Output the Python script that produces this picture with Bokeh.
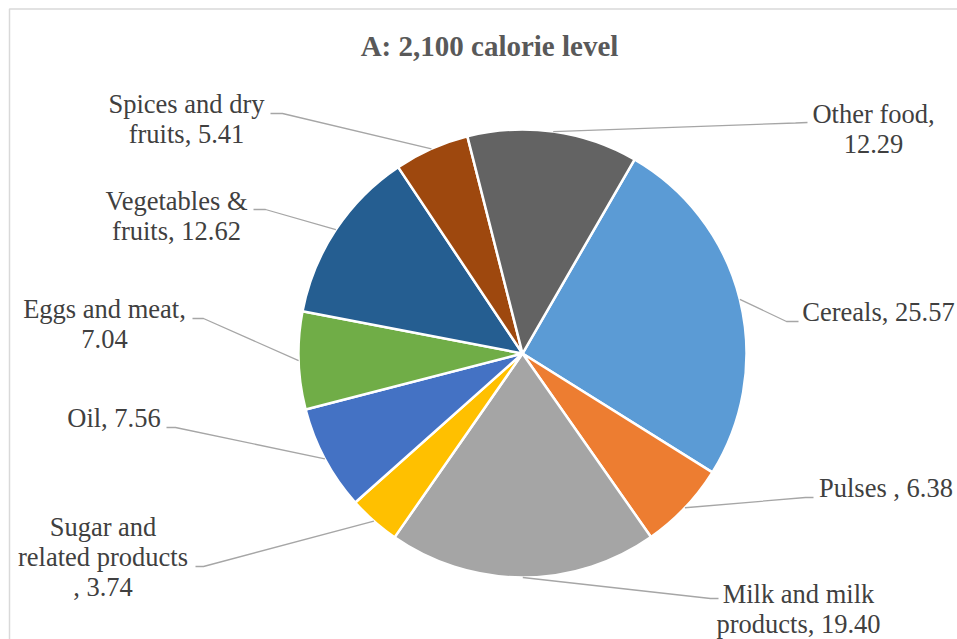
import math
from bokeh.plotting import figure
from bokeh.models import ColumnDataSource, Range1d
from bokeh.embed import file_html
from bokeh.resources import INLINE
from bokeh.core.properties import value

# ---------------- data ----------------
TITLE = "A: 2,100 calorie level"
CATEGORIES = ["Cereals", "Pulses ", "Milk and milk products",
              "Sugar and related products ", "Oil", "Eggs and meat",
              "Vegetables & fruits", "Spices and dry fruits", "Other food"]
SHARES = [25.57, 6.38, 19.40, 3.74, 7.56, 7.04, 12.62, 5.41, 12.29]
COLORS = ["#5B9BD5", "#ED7D31", "#A5A5A5", "#FFC000", "#4472C4",
          "#70AD47", "#255E91", "#9E480E", "#636363"]

# ---------------- layout (pixels, y measured from top) ----------------
W, H = 957, 639
CX, CY, R = 522, 353, 224
FIRST_ANGLE = 30.0          # degrees clockwise from 12 o'clock
WRAP = [[2], [3], [3, 2], [2, 2, 2], [2], [3, 1], [2, 2], [3, 2], [2, 1]]
LABEL_X = [878, 885.5, 798, 102.5, 113.5, 104, 176, 186, 873]
LABEL_Y = [321, 497, 603, 536, 427, 318, 209.5, 113.3, 122.7]
ELBOW = [(786, 321), (805, 497), (710, 598), (203, 566), (175, 427),
         (203, 318), (265, 209), (282, 113), (795, 122.5)]
LEAD_END = [(798, 321), (813, 497), (718, 598), (195, 566), (166, 427),
            (192, 318), (253, 209), (270, 113), (807, 122)]
LINE_STEP = 30
TEXT_SHIFT = -9.5
TITLE_POS = (489, 45)


def fy(y):
    return H - y


p = figure(width=W, height=H, output_backend="svg", toolbar_location=None,
           x_axis_location=None, y_axis_location=None, min_border=0,
           x_range=Range1d(0, W), y_range=Range1d(0, H))
p.outline_line_color = None
p.grid.grid_line_color = None
p.background_fill_color = "white"
p.border_fill_color = "white"

# chart border (top & left visible)
p.line([9, 9, W], [fy(H), fy(8.5), fy(8.5)], line_color="#d9d9d9", line_width=1.5)

# wedges
total = sum(SHARES)
starts, ends, mids = [], [], []
acc = FIRST_ANGLE
for s in SHARES:
    a0 = acc
    a1 = acc + s / total * 360.0
    starts.append(math.radians(90 - a0))
    ends.append(math.radians(90 - a1))
    mids.append((a0 + a1) / 2)
    acc = a1

src = ColumnDataSource(dict(start=starts, end=ends, color=COLORS, cat=CATEGORIES, share=SHARES))
p.wedge(x=CX, y=fy(CY), radius=R, start_angle="start", end_angle="end",
        direction="clock", fill_color="color", line_color="white", line_width=2.5,
        source=src)

# leader lines
xs, ys = [], []
for m, e, le in zip(mids, ELBOW, LEAD_END):
    sx = CX + R * math.sin(math.radians(m))
    sy = CY - R * math.cos(math.radians(m))
    xs.append([sx, e[0], le[0]])
    ys.append([fy(sy), fy(e[1]), fy(le[1])])
p.multi_line(xs, ys, line_color="#a6a6a6", line_width=1.3)

# labels
tx, ty, tt = [], [], []
for cat, val, wrap, lx, ly in zip(CATEGORIES, SHARES, WRAP, LABEL_X, LABEL_Y):
    words = f"{cat}, {val:.2f}".split()
    i = 0
    for k, n in enumerate(wrap):
        tt.append(" ".join(words[i:i + n]))
        i += n
        tx.append(lx)
        ty.append(fy(ly + k * LINE_STEP + TEXT_SHIFT))
p.text(tx, ty, text=tt, text_align="center", text_baseline="alphabetic",
       text_font=value("Liberation Serif"), text_font_size="26.5px", text_color="#404040")

# title
p.text([TITLE_POS[0]], [fy(TITLE_POS[1])], text=[TITLE], text_align="center",
       text_baseline="alphabetic",
       text_font=value("Liberation Serif"), text_font_size="29px",
       text_font_style="bold", text_color="#595959")

open("out.html", "w").write(file_html(p, INLINE))
